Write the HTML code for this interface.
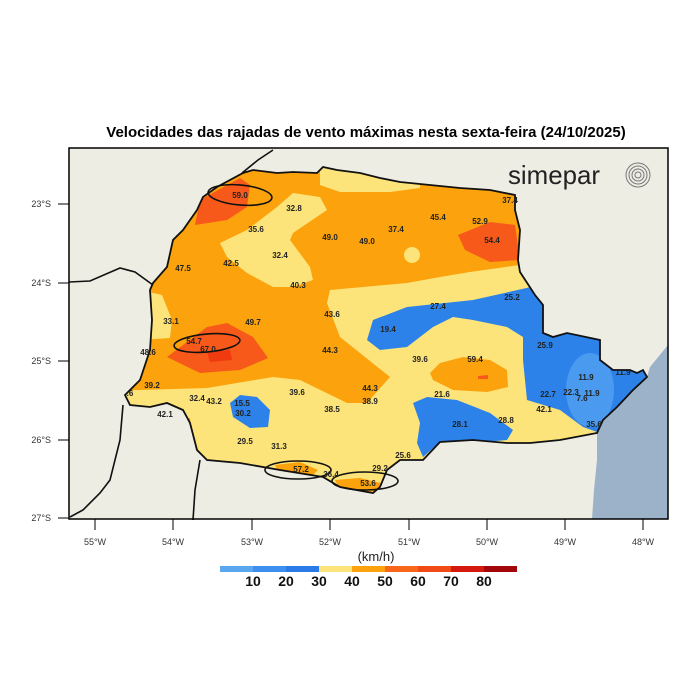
<!DOCTYPE html>
<html><head><meta charset="utf-8"><style>
html,body{margin:0;padding:0;background:#fff;}
svg{display:block;font-family:"Liberation Sans",sans-serif;}
.l{font-size:8px;font-weight:bold;fill:#222;text-anchor:middle;}
.t{font-size:9px;fill:#333;}
</style></head><body>
<svg width="700" height="700" viewBox="0 0 700 700">
<defs>
<clipPath id="st"><polygon id="stp" points="197,210 203,197 217,187 243,173 253,170 277,173 293,172 317,173 323,167 337,170 360,173 380,178 400,182 430,185 460,188 490,190 515,195 515,210 520,230 518,260 520,272 535,295 543,305 543,320 543,333 553,337 567,333 600,340 600,360 613,370 630,370 637,373 643,370 647,377 633,390 617,407 603,420 597,433 560,440 530,443 507,443 473,440 440,442 423,460 400,460 387,470 380,487 373,493 340,487 323,477 280,470 240,463 207,460 197,450 190,423 183,410 167,403 150,407 130,405 125,395 140,380 150,350 152,320 150,290 153,283 167,267 173,240 183,230"/></clipPath>
</defs>
<text x="366" y="137" text-anchor="middle" style="font-size:15px;font-weight:bold;fill:#000">Velocidades das rajadas de vento máximas nesta sexta-feira (24/10/2025)</text>
<rect x="69" y="148" width="599" height="371" fill="#eeede4"/>
<polygon points="668,345 650,367 647,377 633,390 617,407 603,420 597,433 597,460 594,490 592,519 668,519" fill="#9bb2c8"/>
<g clip-path="url(#st)">
<rect x="60" y="140" width="640" height="400" fill="#fde47a"/>
<polygon fill="#fba20c" points="60,140 700,140 700,260 520,265 470,272 440,277 407,283 330,290 327,303 340,337 390,377 367,403 347,403 300,380 273,377 207,388 140,390 60,390"/>
<polygon fill="#fde47a" points="320,160 420,160 420,188 390,192 340,192 320,185"/>
<polygon fill="#fde47a" points="220,243 247,230 277,207 293,193 320,197 327,210 293,233 290,240 310,267 313,280 293,287 273,287 247,273 227,257"/>
<circle cx="412" cy="255" r="8" fill="#fde47a"/>
<polygon fill="#fde47a" points="140,290 162,295 172,320 170,338 140,340"/>
<polygon fill="#f7591a" points="195,225 200,200 240,178 250,185 247,207 227,220"/>
<polygon fill="#f7591a" points="458,235 490,222 515,225 520,260 490,262 465,250"/>
<polygon fill="#f7591a" points="167,357 207,327 227,323 253,337 268,358 240,370 200,373"/>
<polygon fill="#f03a10" points="207,352 230,350 232,360 210,362"/>
<polygon fill="#fba20c" points="430,373 440,363 463,357 490,360 507,370 508,387 487,392 453,390 433,380"/>
<polygon fill="#f7591a" points="478,376 488,375 488,379 478,379"/>
<polygon fill="#2c82e8" points="473,300 540,285 620,300 700,300 700,440 600,433 583,427 560,410 527,400 523,360 523,337 507,327 473,320 453,317 433,327 407,347 380,350 367,340 373,320 407,307"/>
<ellipse cx="590" cy="390" rx="24" ry="37" fill="#4a9bef"/>
<polygon fill="#2c82e8" points="413,403 427,397 457,400 490,413 513,430 507,440 473,443 440,442 423,457 417,443 420,423"/>
<polygon fill="#2c82e8" points="230,403 240,395 257,397 270,410 268,427 250,428 233,417"/>
<polygon fill="#fba20c" points="275,465 300,462 318,470 310,478 280,475"/>
<polygon fill="#fba20c" points="335,480 360,478 385,484 380,492 340,490"/>
<polygon fill="#fba20c" points="180,420 190,418 192,432 183,432"/>
</g>
<use href="#stp" fill="none" stroke="#111" stroke-width="1.8"/>
<g fill="none" stroke="#111" stroke-width="1.6">
<polyline points="69,282 90,281 120,268 135,272 153,285"/>
<polyline points="242,173 258,160 273,150"/>
<polyline points="123,405 120,440 110,480 100,493 83,510 70,517"/>
<polyline points="200,460 195,490 193,520"/>
<ellipse cx="240" cy="195" rx="32" ry="10" transform="rotate(5 240 195)"/>
<ellipse cx="207" cy="343" rx="33" ry="9" transform="rotate(-5 207 343)"/>
<ellipse cx="298" cy="470" rx="33" ry="9"/>
<ellipse cx="365" cy="481" rx="33" ry="9"/>
</g>
<rect x="69" y="148" width="599" height="371" fill="none" stroke="#000" stroke-width="1.5"/>
<g stroke="#000" stroke-width="1">
<line x1="58" y1="204" x2="69" y2="204"/><line x1="58" y1="283" x2="69" y2="283"/><line x1="58" y1="361" x2="69" y2="361"/><line x1="58" y1="440" x2="69" y2="440"/><line x1="58" y1="518" x2="69" y2="518"/>
<line x1="95" y1="519" x2="95" y2="530"/><line x1="173" y1="519" x2="173" y2="530"/><line x1="252" y1="519" x2="252" y2="530"/><line x1="330" y1="519" x2="330" y2="530"/><line x1="409" y1="519" x2="409" y2="530"/><line x1="487" y1="519" x2="487" y2="530"/><line x1="565" y1="519" x2="565" y2="530"/><line x1="643" y1="519" x2="643" y2="530"/>
</g>
<g class="t" text-anchor="end"><text x="51" y="207">23°S</text><text x="51" y="286">24°S</text><text x="51" y="364">25°S</text><text x="51" y="443">26°S</text><text x="51" y="521">27°S</text></g>
<g class="t" text-anchor="middle"><text x="95" y="545">55°W</text><text x="173" y="545">54°W</text><text x="252" y="545">53°W</text><text x="330" y="545">52°W</text><text x="409" y="545">51°W</text><text x="487" y="545">50°W</text><text x="565" y="545">49°W</text><text x="643" y="545">48°W</text></g>
<text x="508" y="184" textLength="92" lengthAdjust="spacingAndGlyphs" style="font-size:26px;fill:#222">simepar</text>
<g fill="none" stroke="#777" stroke-width="1"><circle cx="638" cy="175" r="3"/><circle cx="638" cy="175" r="6"/><circle cx="638" cy="175" r="9"/><circle cx="638" cy="175" r="12"/></g>
<g class="l">
<text x="240" y="198">59.0</text><text x="294" y="211">32.8</text><text x="256" y="232">35.6</text><text x="330" y="240">49.0</text><text x="367" y="244">49.0</text><text x="396" y="232">37.4</text><text x="438" y="220">45.4</text><text x="480" y="224">52.9</text><text x="510" y="203">37.4</text><text x="492" y="243">54.4</text>
<text x="280" y="258">32.4</text><text x="231" y="266">42.5</text><text x="183" y="271">47.5</text><text x="298" y="288">40.3</text>
<text x="438" y="309">27.4</text><text x="512" y="300">25.2</text><text x="332" y="317">43.6</text><text x="388" y="332">19.4</text><text x="171" y="324">33.1</text><text x="253" y="325">49.7</text>
<text x="194" y="344">54.7</text><text x="208" y="352">67.0</text><text x="148" y="355">48.6</text><text x="330" y="353">44.3</text><text x="420" y="362">39.6</text><text x="475" y="362">59.4</text><text x="545" y="348">25.9</text>
<text x="152" y="388">39.2</text><text x="130" y="396">.6</text><text x="297" y="395">39.6</text><text x="370" y="391">44.3</text><text x="442" y="397">21.6</text><text x="586" y="380">11.9</text><text x="623" y="375">11.9</text>
<text x="197" y="401">32.4</text><text x="214" y="404">43.2</text><text x="242" y="406">15.5</text><text x="370" y="404">38.9</text><text x="548" y="397">22.7</text><text x="571" y="395">22.3</text><text x="592" y="396">11.9</text><text x="582" y="401">7.6</text>
<text x="165" y="417">42.1</text><text x="243" y="416">30.2</text><text x="332" y="412">38.5</text><text x="544" y="412">42.1</text><text x="460" y="427">28.1</text><text x="506" y="423">28.8</text><text x="594" y="427">35.6</text>
<text x="245" y="444">29.5</text><text x="279" y="449">31.3</text><text x="403" y="458">25.6</text>
<text x="301" y="472">57.2</text><text x="331" y="477">36.4</text><text x="380" y="471">29.2</text><text x="368" y="486">53.6</text>
</g>
<text x="376" y="561" text-anchor="middle" style="font-size:13px;fill:#222">(km/h)</text>
<g>
<rect x="220" y="566" width="34" height="6" fill="#5aa7f0"/><rect x="253" y="566" width="34" height="6" fill="#3d8ff0"/><rect x="286" y="566" width="34" height="6" fill="#2a7ae8"/><rect x="319" y="566" width="34" height="6" fill="#fde47a"/><rect x="352" y="566" width="34" height="6" fill="#fba20c"/><rect x="385" y="566" width="34" height="6" fill="#f9681a"/><rect x="418" y="566" width="34" height="6" fill="#f24a14"/><rect x="451" y="566" width="34" height="6" fill="#d41a0e"/><rect x="484" y="566" width="33" height="6" fill="#a3070a"/>
</g>
<g text-anchor="middle" style="font-size:14px;font-weight:bold;fill:#111">
<text x="253" y="586">10</text><text x="286" y="586">20</text><text x="319" y="586">30</text><text x="352" y="586">40</text><text x="385" y="586">50</text><text x="418" y="586">60</text><text x="451" y="586">70</text><text x="484" y="586">80</text>
</g>
</svg>
</body></html>
